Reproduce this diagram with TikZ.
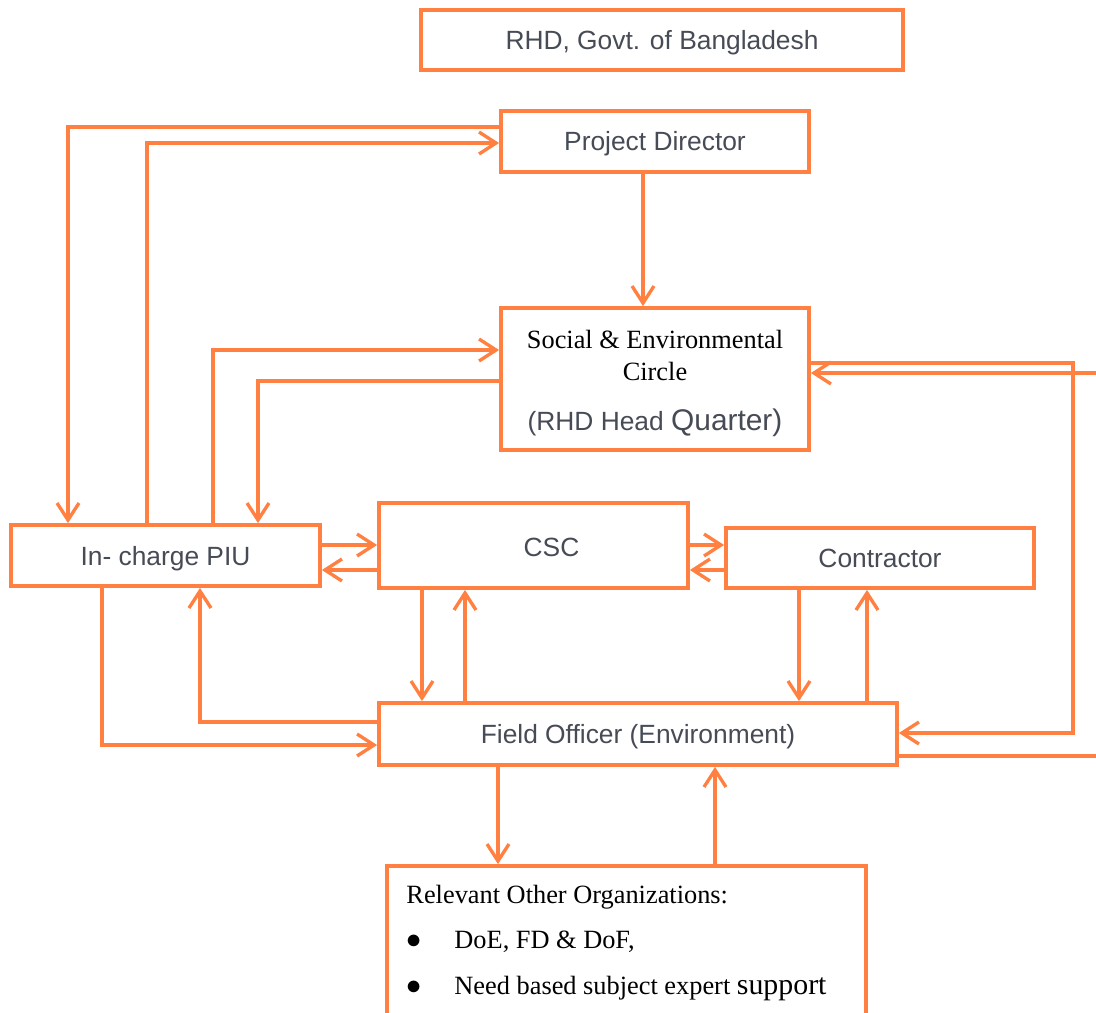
\documentclass[tikz,border=0pt]{standalone}
\usepackage{fontspec}
\setmainfont{Liberation Serif}
\setsansfont{Liberation Sans}
\usepackage{tikz}
\usetikzlibrary{arrows.meta,calc,positioning}
\definecolor{orng}{RGB}{255,128,64}
\definecolor{txtgray}{RGB}{70,75,85}
\tikzstyle{blk} = [draw=orng, line width=2.2pt, inner sep=0pt, text=txtgray, font=\sffamily\fontsize{15}{18}\selectfont]
\tikzstyle{one} = [text height=12.5pt, text depth=1.7pt]
\tikzstyle{arr} = [draw=orng, line width=1.9pt, -{Straight Barb[length=3.4mm,width=4.4mm]}]
\tikzstyle{lin} = [draw=orng, line width=1.9pt]
\newcommand{\serifblk}[1]{{\rmfamily\color{black}#1}}
\newcommand{\blt}{\makebox[0.96cm][l]{\fontsize{19}{19}\selectfont$\bullet$}}

\begin{document}
\begin{tikzpicture}[x=0.02cm,y=-0.02cm]
	\path[use as bounding box, clip] (0,0) rectangle (1096,1012);
	\fill[white] (0,0) rectangle (1096,1012);
	% boxes
	\node [blk, one, minimum width=9.64cm, minimum height=1.2cm] (rhd) at (662,40) {RHD, Govt. of Bangladesh};
	\node [blk, one, minimum width=6.16cm, minimum height=1.22cm] (pd) at (655,141.5) {Project Director};
	\node [blk, minimum width=6.16cm, minimum height=2.84cm, align=center] (sec) at (655,379)
		{\serifblk{\rule{0pt}{15.5pt}Social \& Environmental}\\ \serifblk{Circle}\\[10.7pt] (RHD Head {\fontsize{17}{20}\selectfont Quarter)}};
	\node [blk, one, minimum width=6.18cm, minimum height=1.22cm] (piu) at (165.5,555.5) {In- charge PIU};
	\node [blk, one, text height=13.5pt, text depth=0.7pt, minimum width=6.18cm, minimum height=1.7cm] (csc) at (533.5,545.5) {\hspace*{0.72cm}CSC};
	\node [blk, one, minimum width=6.16cm, minimum height=1.2cm] (con) at (880,558) {Contractor};
	\node [blk, one, minimum width=10.36cm, minimum height=1.24cm] (fo) at (638,734) {Field Officer (Environment)};
	\node [blk, minimum width=9.58cm, minimum height=3.4cm] (roo) at (626.5,951) {};
	\node [anchor=north west, align=left, inner sep=0pt, font=\rmfamily\fontsize{15}{26.4}\selectfont] (rootext)
		at ($(roo.north west)+(21,21)$)
		{Relevant Other Organizations:\\[-1pt] \blt DoE, FD \& DoF,\\ \blt Need based subject expert {\fontsize{17}{20}\selectfont support}};
	% bend points
	\coordinate (a1) at (68,127);
	\coordinate (a2) at (147,143);
	\coordinate (a4) at (213,350);
	\coordinate (a5) at (258,381);
	\coordinate (b1) at (0,545);
	\coordinate (b2) at (0,570);
	\coordinate (c1) at (422,0);
	\coordinate (c2) at (465,0);
	\coordinate (c3) at (799,0);
	\coordinate (c4) at (867,0);
	\coordinate (d1) at (102,745);
	\coordinate (d2) at (200,722);
	\coordinate (e1) at (1073,363);
	\coordinate (e2) at (1073,733);
	\coordinate (e3) at (1100,373);
	\coordinate (e4) at (1100,756);
	\coordinate (f1) at (498,0);
	\coordinate (f2) at (715,0);
	% connectors
	\draw [arr] (a1 -| pd.west) -- (a1) -- (a1 |- piu.north);
	\draw [arr] (a2 |- piu.north) -- (a2) -- (a2 -| pd.west);
	\draw [arr] ($(pd.south)+(-12,0)$) -- ($(sec.north)+(-12,0)$);
	\draw [arr] (a4 |- piu.north) -- (a4) -- (a4 -| sec.west);
	\draw [arr] (a5 -| sec.west) -- (a5) -- (a5 |- piu.north);
	\draw [arr] (b1 -| piu.east) -- (b1 -| csc.west);
	\draw [arr] (b2 -| csc.west) -- (b2 -| piu.east);
	\draw [arr] (b1 -| csc.east) -- (b1 -| con.west);
	\draw [arr] (b2 -| con.west) -- (b2 -| csc.east);
	\draw [arr] (c1 |- csc.south) -- (c1 |- fo.north);
	\draw [arr] (c2 |- fo.north) -- (c2 |- csc.south);
	\draw [arr] (c3 |- con.south) -- (c3 |- fo.north);
	\draw [arr] (c4 |- fo.north) -- (c4 |- con.south);
	\draw [arr] (d1 |- piu.south) -- (d1) -- (d1 -| fo.west);
	\draw [arr] (d2 -| fo.west) -- (d2) -- (d2 |- piu.south);
	\draw [arr] (e1 -| sec.east) -- (e1) -- (e2) -- (e2 -| fo.east);
	\draw [arr] (e3) -- (e3 -| sec.east);
	\draw [lin] (e4 -| fo.east) -- (e4);
	\draw [arr] (f1 |- fo.south) -- (f1 |- roo.north);
	\draw [arr] (f2 |- roo.north) -- (f2 |- fo.south);
\end{tikzpicture}
\end{document}
